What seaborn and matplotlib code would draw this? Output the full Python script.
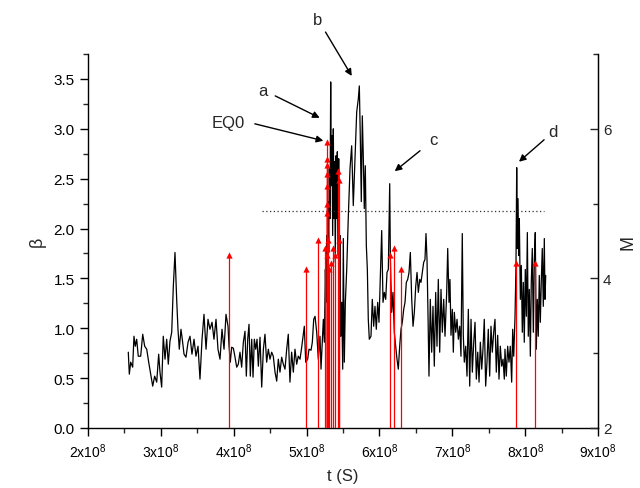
import numpy as np
import pandas as pd
import matplotlib
matplotlib.use('Agg')
import matplotlib.pyplot as plt
import seaborn as sns
from matplotlib.ticker import MultipleLocator, FuncFormatter

sns.set_style('ticks')
plt.rcParams['font.family'] = ['Liberation Sans', 'DejaVu Sans']
plt.rcParams['mathtext.default'] = 'regular'

# beta(t), t in units of 1e8 s
t_seg1 = [2.553, 2.567, 2.586, 2.613, 2.631, 2.649, 2.668, 2.690, 2.723, 2.751,
          2.778, 2.806, 2.833, 2.861, 2.888, 2.915, 2.943, 2.970, 2.988, 3.011,
          3.033, 3.057, 3.080, 3.102, 3.125, 3.149, 3.171, 3.194, 3.217, 3.235,
          3.253, 3.276, 3.294, 3.318, 3.345, 3.373, 3.400, 3.427, 3.455, 3.482,
          3.510, 3.537, 3.565, 3.592, 3.620, 3.647, 3.674, 3.702, 3.729, 3.757,
          3.784, 3.812, 3.839, 3.867, 3.894, 3.922]
beta_seg1 = [0.76, 0.54, 0.66, 0.61, 0.92, 0.82, 0.89, 0.72, 0.72, 0.94,
             0.82, 0.79, 0.66, 0.54, 0.42, 0.52, 0.46, 0.74, 0.56, 0.41,
             0.92, 0.69, 0.89, 0.64, 0.87, 0.96, 1.42, 1.76, 1.29, 0.99,
             0.79, 0.99, 0.89, 0.74, 0.71, 0.86, 0.92, 0.74, 0.89, 0.72,
             0.82, 0.49, 0.89, 1.14, 0.79, 1.09, 0.99, 1.06, 0.89, 1.09,
             0.79, 0.69, 0.99, 0.79, 1.14, 1.02]

t_seg2 = [3.935, 3.953, 3.972, 3.995, 4.018, 4.041, 4.063, 4.086, 4.109, 4.132,
          4.155, 4.173, 4.192, 4.210, 4.228, 4.247, 4.265, 4.283, 4.302, 4.320,
          4.338, 4.361, 4.384, 4.407, 4.429, 4.452, 4.475, 4.498, 4.521, 4.543,
          4.567, 4.590, 4.612, 4.635, 4.658, 4.681, 4.704, 4.727, 4.749, 4.772,
          4.795, 4.818, 4.841, 4.864, 4.886, 4.910, 4.933, 4.955, 4.969, 4.988,
          5.015, 5.033, 5.061, 5.079, 5.098, 5.116]
beta_seg2 = [0.83, 0.66, 0.81, 0.80, 0.71, 0.61, 0.64, 0.76, 0.61, 0.86,
             0.97, 0.52, 0.89, 1.04, 0.52, 0.89, 0.51, 0.89, 0.79, 0.89,
             0.62, 0.91, 0.41, 0.79, 0.94, 0.66, 0.79, 0.69, 0.76, 0.72,
             0.56, 0.47, 0.69, 0.56, 0.71, 0.64, 0.59, 0.79, 0.94, 0.46,
             0.76, 0.56, 0.79, 0.64, 0.72, 0.69, 0.81, 0.94, 1.02, 0.66,
             0.69, 0.79, 0.78, 0.86, 1.09, 1.12]

t_seg3 = [5.139, 5.161, 5.184, 5.198, 5.216, 5.230, 5.244, 5.258, 5.267, 5.276,
          5.285, 5.294, 5.304, 5.312, 5.321, 5.331, 5.339, 5.349, 5.358, 5.367,
          5.376, 5.386, 5.394, 5.404, 5.413, 5.422, 5.431, 5.441, 5.449, 5.459,
          5.468, 5.482, 5.496, 5.504, 5.518, 5.532, 5.551, 5.572, 5.596, 5.619,
          5.641, 5.665, 5.688, 5.710, 5.724, 5.737, 5.751, 5.765, 5.779, 5.792,
          5.806, 5.820, 5.834, 5.847, 5.861]
beta_seg3 = [0.96, 0.69, 0.92, 0.59, 0.86, 1.09, 0.86, 1.59, 1.26, 1.93,
             1.53, 2.27, 1.76, 2.60, 2.10, 3.47, 2.43, 2.93, 1.93, 3.00,
             2.10, 2.67, 1.66, 2.73, 2.10, 2.77, 1.73, 2.70, 1.42, 1.93,
             0.92, 1.26, 0.59, 1.90, 0.66, 1.26, 1.59, 2.10, 2.60, 2.83,
             2.23, 2.70, 3.17, 3.30, 3.43, 2.93, 2.27, 3.13, 2.70, 2.20,
             2.63, 1.83, 1.59, 1.09, 0.89]

t_seg4 = [5.884, 5.902, 5.921, 5.939, 5.957, 5.976, 5.994, 6.012, 6.031, 6.049,
          6.067, 6.086, 6.104, 6.122, 6.141, 6.150, 6.168, 6.186, 6.204, 6.223,
          6.241, 6.259, 6.278, 6.296, 6.314, 6.333, 6.351, 6.369, 6.388, 6.406,
          6.424, 6.443, 6.461, 6.479, 6.498, 6.516, 6.534, 6.553, 6.570, 6.588,
          6.607, 6.625, 6.639, 6.653, 6.667, 6.680, 6.698, 6.717, 6.735, 6.753,
          6.772, 6.790, 6.808, 6.827, 6.845, 6.863, 6.882]
beta_seg4 = [0.92, 1.29, 1.02, 1.22, 0.99, 1.26, 1.06, 1.49, 1.98, 1.26,
             1.36, 1.29, 1.56, 1.59, 2.45, 1.69, 1.16, 1.36, 0.96, 0.82,
             0.69, 0.59, 0.82, 0.99, 1.06, 1.19, 1.26, 1.46, 1.49, 1.56,
             1.76, 1.29, 1.02, 1.16, 1.42, 1.56, 1.36, 1.49, 1.46, 1.56,
             1.66, 1.69, 1.95, 1.69, 1.12, 0.52, 1.29, 0.76, 1.22, 0.62,
             1.36, 0.82, 1.49, 0.76, 1.39, 0.96, 1.29]

t_seg5 = [6.900, 6.923, 6.937, 6.955, 6.968, 6.982, 7.000, 7.014, 7.028, 7.047,
          7.065, 7.083, 7.102, 7.119, 7.137, 7.151, 7.165, 7.184, 7.202, 7.220,
          7.239, 7.257, 7.275, 7.294, 7.312, 7.330, 7.349, 7.367, 7.385, 7.404,
          7.421, 7.439, 7.458, 7.476, 7.494, 7.513, 7.531, 7.549, 7.568, 7.586,
          7.604, 7.623, 7.641, 7.659, 7.678, 7.696, 7.714]
beta_seg5 = [0.92, 1.36, 1.80, 1.26, 1.49, 0.93, 1.19, 0.76, 1.16, 0.96,
             1.09, 0.89, 1.02, 0.72, 1.95, 0.93, 0.66, 0.82, 0.52, 1.19,
             0.42, 1.09, 0.56, 0.86, 1.06, 0.49, 0.76, 0.46, 0.86, 0.59,
             0.79, 1.09, 0.42, 0.66, 0.99, 0.52, 1.02, 0.76, 0.96, 1.09,
             0.56, 0.93, 0.49, 0.82, 0.62, 0.69, 0.49]

t_seg6 = [7.723, 7.741, 7.760, 7.778, 7.796, 7.815, 7.829, 7.843, 7.861, 7.874,
          7.884, 7.892, 7.902, 7.911, 7.920, 7.934, 7.947, 7.961, 7.975, 7.988,
          8.002, 8.016, 8.030, 8.043, 8.057, 8.071, 8.084, 8.098, 8.112, 8.126,
          8.139, 8.153, 8.167, 8.180, 8.194, 8.208, 8.221, 8.235, 8.249, 8.263,
          8.272, 8.282]
beta_seg6 = [0.79, 0.52, 0.82, 0.66, 0.82, 0.46, 0.99, 0.72, 1.12, 1.63,
             2.61, 1.80, 2.30, 1.73, 2.10, 1.29, 1.63, 0.96, 1.46, 0.86,
             1.59, 1.12, 1.96, 0.92, 1.39, 0.72, 1.46, 1.80, 0.96, 1.69,
             1.96, 0.79, 1.29, 0.92, 1.53, 1.06, 1.46, 1.80, 1.22, 1.90,
             1.29, 1.53]

# earthquakes: time (1e8 s) and magnitude M
eq_t = [3.93, 4.99, 5.16, 5.253, 5.276, 5.285, 5.285, 5.285, 5.285, 5.276,
        5.285, 5.299, 5.276, 5.313, 5.331, 5.358, 5.39, 5.436, 5.449, 5.449,
        6.145, 6.20, 6.30, 7.87, 8.14]
eq_m = [4.31, 4.12, 4.51, 4.40, 5.83, 5.60, 5.51, 5.40, 5.23, 5.00,
        4.87, 4.51, 4.31, 4.12, 4.21, 4.40, 4.31, 5.43, 5.31, 4.51,
        4.31, 4.41, 4.12, 4.21, 4.21]

# threshold line
beta_thr = 2.18
thr_span = [4.39, 8.26]

SCALE = 1e8
t_all = np.concatenate([t_seg1, t_seg2, t_seg3, t_seg4, t_seg5, t_seg6]) * SCALE
beta_all = np.concatenate([beta_seg1, beta_seg2, beta_seg3, beta_seg4, beta_seg5, beta_seg6])
df = pd.DataFrame({'t': t_all, 'beta': beta_all})

fig = plt.figure(figsize=(6.4, 4.89), dpi=100)
ax = fig.add_axes([0.1375, 0.1227, 0.7969, 0.7648])

sns.lineplot(data=df, x='t', y='beta', sort=False, estimator=None,
             color='black', lw=0.9, ax=ax)
ax.hlines(beta_thr, thr_span[0] * SCALE, thr_span[1] * SCALE,
          colors='#333333', linestyles=(0, (1, 2)), lw=0.9)

ax.set_xlim(2e8, 9e8)
ax.set_ylim(0, 3.75)
ax.xaxis.set_major_locator(MultipleLocator(1e8))
ax.xaxis.set_minor_locator(MultipleLocator(0.5e8))
ax.yaxis.set_major_locator(MultipleLocator(0.5))
ax.yaxis.set_minor_locator(MultipleLocator(0.25))
ax.xaxis.set_major_formatter(FuncFormatter(lambda v, p: f'{int(round(v / 1e8))}x10$^8$'))
ax.yaxis.set_major_formatter(FuncFormatter(lambda v, p: f'{v:.1f}'))
ax.tick_params(which='major', direction='out', length=6, width=1, colors='k')
ax.tick_params(which='minor', direction='out', length=3.5, width=1)
ax.tick_params(axis='x', labelsize=10)
ax.tick_params(axis='y', labelsize=11)
ax.set_xlabel('t (S)', fontsize=12, labelpad=6)
ax.set_ylabel('β', fontsize=13, labelpad=6)
for s in ['left', 'bottom']:
    ax.spines[s].set_linewidth(1)
    ax.spines[s].set_color('k')
ax.spines['top'].set_visible(False)

ax2 = ax.twinx()
eq_ts = np.array(eq_t) * SCALE
ax2.vlines(eq_ts, 2, eq_m, colors='red', lw=0.9)
sns.scatterplot(x=eq_ts, y=eq_m, marker='^', color='red', s=20,
                linewidth=0, ax=ax2, zorder=3)
ax2.set_ylim(2, 7)
ax2.yaxis.set_major_locator(MultipleLocator(2))
ax2.yaxis.set_minor_locator(MultipleLocator(1))
ax2.tick_params(which='major', direction='in', length=6, width=1, labelsize=11)
ax2.tick_params(which='minor', direction='in', length=3.5, width=1)
ax2.set_ylabel('M', fontsize=13, labelpad=6)
ax2.spines['top'].set_visible(False)
ax2.spines['right'].set_linewidth(1)
ax2.spines['right'].set_color('k')
ax2.spines['left'].set_visible(False)
ax2.spines['bottom'].set_visible(False)

arrow = dict(arrowstyle='-|>', color='black', lw=1, mutation_scale=10, shrinkA=0, shrinkB=0)
notes = [('a', (4.40, 3.38), (4.57, 3.33), (5.18, 3.11)),
         ('EQ0', (3.92, 3.06), (4.29, 3.05), (5.23, 2.88)),
         ('b', (5.157, 4.10), (5.26, 3.97), (5.62, 3.53)),
         ('c', (6.735, 2.89), (6.557, 2.78), (6.21, 2.575)),
         ('d', (8.38, 2.97), (8.26, 2.89), (7.915, 2.67))]
for label, txt, tail, head in notes:
    ax.text(txt[0] * SCALE, txt[1], label, fontsize=12, ha='center', va='center')
    ax.annotate('', xy=(head[0] * SCALE, head[1]), xytext=(tail[0] * SCALE, tail[1]),
                arrowprops=arrow, annotation_clip=False)

fig.savefig('out.png', dpi=100)
